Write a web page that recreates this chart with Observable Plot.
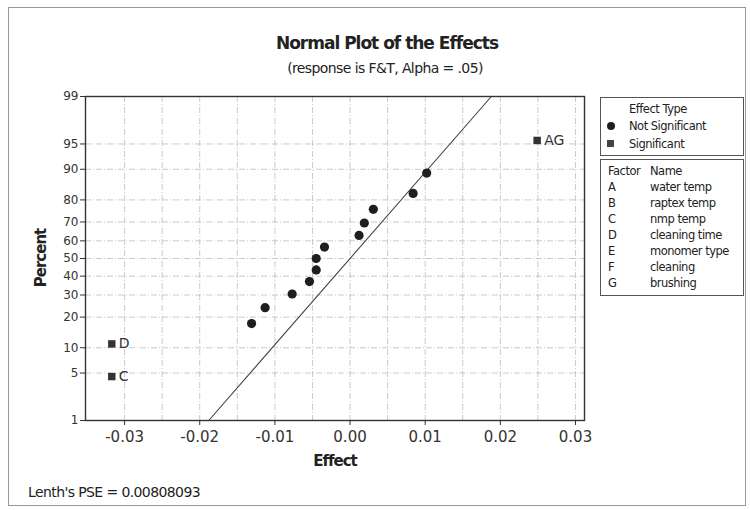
<!DOCTYPE html>
<html>
<head>
<meta charset="utf-8">
<script src="https://cdn.jsdelivr.net/npm/d3@7"></script>
<script src="https://cdn.jsdelivr.net/npm/@observablehq/plot@0.6"></script>
<style>
  html, body { margin: 0; padding: 0; background: #fff; }
  #wrap { position: relative; width: 750px; height: 510px; font-family: "DejaVu Sans", sans-serif; color: #222; overflow: hidden; }
  #wrap svg { position: absolute; left: 0; top: 0; }
  .abs { position: absolute; white-space: nowrap; }
  #border { position: absolute; left: 8px; top: 7px; width: 736px; height: 497px; border: 1px solid #999; }
  .box { position: absolute; border: 1px solid #555; background: #fff; }
  .lg { font-size: 11.5px; letter-spacing: -0.5px; line-height: 14px; }
</style>
</head>
<body>
<div id="wrap">
  <div id="border"></div>
</div>
<script>
// ---- data ----
const effects   = [-0.0317, -0.0317, -0.0131, -0.0113, -0.0077, -0.0054, -0.0045, -0.0045, -0.0034, 0.0012, 0.0019, 0.0031, 0.0084, 0.0102, 0.0249];
const percents  = [4.5, 11.0, 17.5, 24.0, 30.5, 37.0, 43.5, 50.0, 56.5, 63.0, 69.5, 76.0, 82.5, 89.0, 95.5];
const effectTypes = ["Significant", "Significant", "Not Significant", "Not Significant", "Not Significant", "Not Significant", "Not Significant", "Not Significant", "Not Significant", "Not Significant", "Not Significant", "Not Significant", "Not Significant", "Not Significant", "Significant"];
const effectLabels = ["C", "D", "", "", "", "", "", "", "", "", "", "", "", "", "AG"];
const fitEffects  = [-0.0188, 0.0188];
const fitPercents = [1, 99];
const yTicks = [1, 5, 10, 20, 30, 40, 50, 60, 70, 80, 90, 95, 99];
const xTicks = [-0.03, -0.02, -0.01, 0.00, 0.01, 0.02, 0.03];
const xGridTicks = [-0.03, -0.025, -0.02, -0.015, -0.01, -0.005, 0, 0.005, 0.01, 0.015, 0.02, 0.025, 0.03];
const factorLetters = ["A", "B", "C", "D", "E", "F", "G"];
const factorNames = ["water temp", "raptex temp", "nmp temp", "cleaning time", "monomer type", "cleaning", "brushing"];
const legendTypes = ["Not Significant", "Significant"];
const titleText = "Normal Plot of the Effects";
const subtitleText = "(response is F&T, Alpha = .05)";
const pseText = "Lenth's PSE = 0.00808093";

// inverse standard normal CDF (Acklam) for the probability axis
function probit(p) {
  const a = [-3.969683028665376e+01, 2.209460984245205e+02, -2.759285104469687e+02, 1.383577518672690e+02, -3.066479806614716e+01, 2.506628277459239e+00];
  const b = [-5.447609879822406e+01, 1.615858368580409e+02, -1.556989798598866e+02, 6.680131188771972e+01, -1.328068155288572e+01];
  const c = [-7.784894002430293e-03, -3.223964580411365e-01, -2.400758277161838e+00, -2.549732539343734e+00, 4.374664141464968e+00, 2.938163982698783e+00];
  const d = [7.784695709041462e-03, 3.224671290700398e-01, 2.445134137142996e+00, 3.754408661907416e+00];
  const pl = 0.02425, ph = 1 - pl;
  let q, r;
  if (p < pl) {
    q = Math.sqrt(-2 * Math.log(p));
    return (((((c[0]*q+c[1])*q+c[2])*q+c[3])*q+c[4])*q+c[5]) / ((((d[0]*q+d[1])*q+d[2])*q+d[3])*q+1);
  }
  if (p <= ph) {
    q = p - 0.5; r = q * q;
    return (((((a[0]*r+a[1])*r+a[2])*r+a[3])*r+a[4])*r+a[5])*q / (((((b[0]*r+b[1])*r+b[2])*r+b[3])*r+b[4])*r+1);
  }
  q = Math.sqrt(-2 * Math.log(1 - p));
  return -(((((c[0]*q+c[1])*q+c[2])*q+c[3])*q+c[4])*q+c[5]) / ((((d[0]*q+d[1])*q+d[2])*q+d[3])*q+1);
}
const z = p => probit(p / 100);

const points = effects.map((e, i) => ({effect: e, percent: percents[i], type: effectTypes[i], label: effectLabels[i]}));
const notSig = points.filter(d => d.type === "Not Significant");
const sig = points.filter(d => d.type === "Significant");
const fit = fitEffects.map((e, i) => ({effect: e, percent: fitPercents[i]}));
const yTickZ = yTicks.map(z);

const chart = Plot.plot({
  width: 750,
  height: 510,
  marginLeft: 85,
  marginRight: 166,
  marginTop: 96,
  marginBottom: 90,
  style: {fontFamily: "DejaVu Sans, sans-serif", color: "#222", background: "transparent"},
  x: {domain: [-0.0352, 0.0312]},
  y: {domain: [z(1), z(99)]},
  marks: [
    Plot.gridX(xGridTicks, {stroke: "#bdbdbd", strokeOpacity: 1, strokeDasharray: "6,2,1,2", strokeWidth: 0.8}),
    Plot.gridY(yTickZ, {stroke: "#bdbdbd", strokeOpacity: 1, strokeDasharray: "6,2,1,2", strokeWidth: 0.8}),
    Plot.axisX(xTicks, {tickSize: 5, tickPadding: 6, fontSize: 15, letterSpacing: "-0.8px", stroke: "#333", fill: "#333", tickFormat: d => d.toFixed(2), label: null}),
    Plot.axisY(yTickZ, {tickSize: 5, tickPadding: 2, fontSize: 12, letterSpacing: "-1px", stroke: "#333", fill: "#333", tickFormat: v => String(yTicks[yTickZ.indexOf(v)]), label: null}),
    Plot.line(fit, {x: "effect", y: d => z(d.percent), stroke: "#444", strokeWidth: 1.1}),
    Plot.dot(notSig, {x: "effect", y: d => z(d.percent), r: 4.6, fill: "#1e1e1e", stroke: "none"}),
    Plot.dot(sig, {x: "effect", y: d => z(d.percent), symbol: "square", r: 4.2, fill: "#333", stroke: "none"}),
    Plot.text(sig, {x: "effect", y: d => z(d.percent), text: "label", dx: 7, textAnchor: "start", fontSize: 14, fill: "#333"}),
    Plot.frame({stroke: "#333", strokeWidth: 1.4})
  ]
});

const wrap = document.getElementById("wrap");
wrap.appendChild(chart);

function addDiv(text, css, cls = "abs") {
  const el = document.createElement("div");
  el.className = cls;
  el.textContent = text;
  Object.assign(el.style, css);
  wrap.appendChild(el);
  return el;
}

// titles
addDiv(titleText, {left: "0px", width: "774px", textAlign: "center", top: "33px", fontSize: "17px", fontWeight: "bold", letterSpacing: "-1px", lineHeight: "20px", color: "#222"});
addDiv(subtitleText, {left: "0px", width: "770px", textAlign: "center", top: "59px", fontSize: "14px", letterSpacing: "-0.6px", lineHeight: "18px", color: "#222"});
// axis titles
addDiv("Effect", {left: "0px", width: "670px", textAlign: "center", top: "452px", fontSize: "15px", fontWeight: "bold", letterSpacing: "-1px", lineHeight: "18px", color: "#222"});
addDiv("Percent", {left: "41px", top: "258px", transform: "translate(-50%,-50%) rotate(-90deg)", fontSize: "15px", fontWeight: "bold", letterSpacing: "-1px", lineHeight: "18px", color: "#222"});
// footnote
addDiv(pseText, {left: "28px", top: "483px", fontSize: "14px", letterSpacing: "-0.6px", lineHeight: "18px", color: "#222"});

// legend box 1: effect type
const box1 = document.createElement("div");
box1.className = "box";
Object.assign(box1.style, {left: "600px", top: "97px", width: "142px", height: "57px"});
wrap.appendChild(box1);
addDiv("Effect Type", {left: "629px", top: "102px"}, "abs lg");
legendTypes.forEach((t, i) => {
  const y = 119 + i * 18;
  const mk = document.createElement("div");
  mk.className = "abs";
  const isSig = t === "Significant";
  Object.assign(mk.style, {left: isSig ? "607px" : "607px", top: (y + 3) + "px", width: isSig ? "7px" : "8px", height: isSig ? "7px" : "8px", background: isSig ? "#444" : "#1e1e1e", borderRadius: isSig ? "0" : "50%"});
  wrap.appendChild(mk);
  addDiv(t, {left: "629px", top: y + "px"}, "abs lg");
});

// legend box 2: factor names
const box2 = document.createElement("div");
box2.className = "box";
Object.assign(box2.style, {left: "600px", top: "159px", width: "142px", height: "135px"});
wrap.appendChild(box2);
addDiv("Factor", {left: "608px", top: "164px"}, "abs lg");
addDiv("Name", {left: "650px", top: "164px"}, "abs lg");
factorLetters.forEach((f, i) => {
  const y = 180 + i * 16;
  addDiv(f, {left: "608px", top: y + "px"}, "abs lg");
  addDiv(factorNames[i], {left: "650px", top: y + "px"}, "abs lg");
});
</script>
</body>
</html>
